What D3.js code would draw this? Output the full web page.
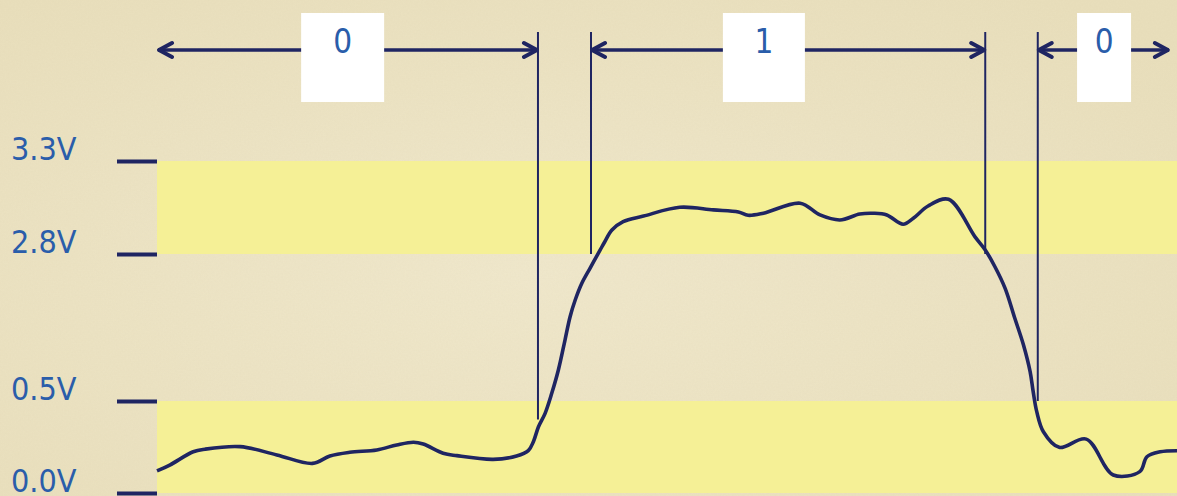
<!DOCTYPE html>
<html>
<head>
<meta charset="utf-8">
<script src="https://cdn.jsdelivr.net/npm/d3@7"></script>
<style>
  html, body { margin: 0; padding: 0; background: #ece3c6; }
  svg { display: block; }
</style>
</head>
<body>
<div id="chart"></div>
<script>
// signal trace (time in arbitrary units, volts)
const time = [0, 0.25, 0.71, 0.94, 1.63, 2.35, 3.05, 3.39, 3.78, 4.31, 4.70, 5.03, 5.22, 5.61, 5.88, 6.59,
  7.05, 7.28, 7.38, 7.48, 7.61, 7.74, 7.87, 8.00, 8.10, 8.20, 8.33, 8.49, 8.69, 8.78, 8.92, 9.14,
  9.54, 10.25, 10.91, 11.40, 11.59, 11.89, 12.61, 13.00, 13.39, 13.78, 14.05, 14.31, 14.63, 14.83, 15.12, 15.52,
  16.04, 16.24, 16.43, 16.63, 16.82, 16.99, 17.12, 17.18, 17.25, 17.38, 17.69,
  18.22, 18.75, 19.27, 19.41, 19.67, 20.00];
const volts = [0.12, 0.152, 0.224, 0.238, 0.252, 0.207, 0.161, 0.201, 0.221, 0.234, 0.261, 0.276, 0.266, 0.216, 0.203, 0.183,
  0.201, 0.230, 0.279, 0.360, 0.433, 0.620, 0.985, 1.454, 1.819, 2.080, 2.342, 2.576, 2.822, 2.866, 2.929, 2.974,
  3.004, 3.051, 3.037, 3.026, 3.008, 3.019, 3.073, 3.010, 2.983, 3.015, 3.019, 3.010, 2.960, 2.992, 3.058, 3.094,
  2.892, 2.822, 2.601, 2.263, 1.794, 1.376, 0.958, 0.646, 0.442, 0.333, 0.248,
  0.293, 0.098, 0.116, 0.197, 0.224, 0.230];

const tickValues = [0, 0.5, 2.8, 3.3];
const tickLabels = ["0.0V", "0.5V", "2.8V", "3.3V"];
const bands = [[0, 0.5], [2.8, 3.3]];

const boundaries = [7.47, 8.51, 16.24, 17.27];
const boundaryEnds = [0.40, 2.8, 2.8, 0.5];

const bitLabels = ["0", "1", "0"];
const bitStart = [0.02, 8.51, 17.27];
const bitEnd = [7.47, 16.24, 19.84];
const bitCenter = [3.64, 11.90, 18.57];

const width = 1177, height = 496;
const navy = "#1f2562", blue = "#2a5daa";
const boxW = [83, 82, 54];
const arrowY = 50, lineTop = 32, boxTop = 13, boxBottom = 102;

const x = d3.scaleLinear().domain([0, 20]).range([157, 1177]);
const y = d3.scaleLinear().domain([0, 0.5, 2.8, 3.3]).range([493, 401, 254, 161]);

const svg = d3.select("#chart")
  .append("svg")
  .attr("width", width)
  .attr("height", height);

// parchment texture
const defs = svg.append("defs");
const f = defs.append("filter").attr("id", "paper")
  .attr("x", 0).attr("y", 0).attr("width", "100%").attr("height", "100%");
f.append("feTurbulence").attr("type", "fractalNoise").attr("baseFrequency", 0.6)
  .attr("numOctaves", 2).attr("seed", 3).attr("result", "n");
f.append("feColorMatrix").attr("in", "n").attr("type", "matrix")
  .attr("values", "0 0 0 0 0.55  0 0 0 0 0.48  0 0 0 0 0.30  0 0 0 0.09 0");
const g2 = defs.append("radialGradient").attr("id", "glow").attr("cx", "45%").attr("cy", "55%").attr("r", "70%");
g2.append("stop").attr("offset", "0%").attr("stop-color", "#f0e8cc");
g2.append("stop").attr("offset", "100%").attr("stop-color", "#e9dfbc");

svg.append("rect").attr("width", width).attr("height", height).attr("fill", "url(#glow)");
svg.append("rect").attr("width", width).attr("height", height).attr("filter", "url(#paper)");

// logic level bands
svg.append("g")
  .selectAll("rect")
  .data(bands)
  .join("rect")
  .attr("x", x(0))
  .attr("width", x(20) - x(0))
  .attr("y", d => y(d[1]))
  .attr("height", d => y(d[0]) - y(d[1]))
  .attr("fill", "#f5f096");

// axis ticks + labels
const axis = svg.append("g")
  .attr("transform", `translate(${x(0)},0)`)
  .call(d3.axisLeft(y).tickValues(tickValues).tickSize(40).tickFormat((d, i) => tickLabels[i]));
axis.select(".domain").remove();
axis.selectAll(".tick line").attr("stroke", navy).attr("stroke-width", 4);
axis.selectAll(".tick text")
  .attr("x", -146)
  .attr("dy", "-2px")
  .attr("text-anchor", "start")
  .attr("fill", blue)
  .style("font-family", "'DejaVu Sans Condensed', 'DejaVu Sans', sans-serif")
  .style("font-stretch", "condensed")
  .style("font-size", "32px");

// bit boundary lines
svg.append("g")
  .attr("stroke", navy)
  .attr("stroke-width", 2)
  .selectAll("line")
  .data(boundaries)
  .join("line")
  .attr("x1", d => x(d))
  .attr("x2", d => x(d))
  .attr("y1", lineTop)
  .attr("y2", (d, i) => y(boundaryEnds[i]));

// signal
const line = d3.line()
  .x((d, i) => x(time[i]))
  .y(d => y(d))
  .curve(d3.curveCatmullRom.alpha(0.5));

svg.append("path")
  .datum(volts)
  .attr("fill", "none")
  .attr("stroke", navy)
  .attr("stroke-width", 3.6)
  .attr("stroke-linejoin", "round")
  .attr("d", line);

// bit arrows
const arrows = svg.append("g")
  .attr("stroke", navy)
  .attr("fill", "none")
  .attr("stroke-width", 3.5);

arrows.selectAll("line")
  .data(bitLabels)
  .join("line")
  .attr("x1", (d, i) => x(bitStart[i]))
  .attr("x2", (d, i) => x(bitEnd[i]))
  .attr("y1", arrowY)
  .attr("y2", arrowY);

arrows.selectAll("path.l")
  .data(bitLabels)
  .join("path")
  .attr("class", "l")
  .attr("stroke-width", 4)
  .attr("stroke-linecap", "round")
  .attr("stroke-linejoin", "round")
  .attr("d", (d, i) => {
    const a = x(bitStart[i]) + 1, b = x(bitEnd[i]) - 1;
    return `M${a + 13},${arrowY - 7}L${a},${arrowY}L${a + 13},${arrowY + 7}` +
      `M${b - 13},${arrowY - 7}L${b},${arrowY}L${b - 13},${arrowY + 7}`;
  });

const boxes = svg.append("g")
  .selectAll("g")
  .data(bitLabels)
  .join("g")
  .attr("transform", (d, i) => `translate(${x(bitCenter[i])},0)`);

boxes.append("rect")
  .attr("x", (d, i) => -boxW[i] / 2)
  .attr("width", (d, i) => boxW[i])
  .attr("y", boxTop)
  .attr("height", boxBottom - boxTop)
  .attr("fill", "#ffffff");

boxes.append("text")
  .attr("text-anchor", "middle")
  .attr("y", 53)
  .attr("fill", blue)
  .style("font-family", "'DejaVu Sans Condensed', 'DejaVu Sans', sans-serif")
  .style("font-stretch", "condensed")
  .style("font-size", "33px")
  .text(d => d);
</script>
</body>
</html>
